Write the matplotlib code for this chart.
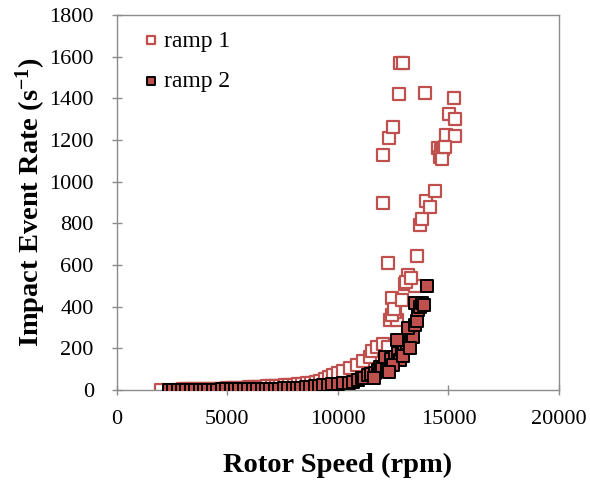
import matplotlib
matplotlib.use("Agg")
import matplotlib.pyplot as plt

plt.rcParams["font.family"] = ["Liberation Serif", "DejaVu Serif"]
plt.rcParams["mathtext.fontset"] = "custom"
plt.rcParams["mathtext.rm"] = "Liberation Serif"
plt.rcParams["mathtext.bf"] = "Liberation Serif:bold"
plt.rcParams["mathtext.default"] = "bf"

# ramp 1 (open squares)
ramp1_rpm = [2000, 2600, 2800, 3000, 3200, 3400, 3600, 3800, 4000, 4200,
             4400, 4600, 4800, 5000, 5200, 5400, 5600, 5800, 6000, 6200,
             6400, 6600, 6800, 7000, 7200, 7400, 7600, 7800, 8000, 8200,
             8400, 8600, 8800, 9000, 9200, 9400, 9600, 9800,
             10000, 10250, 10550, 10850, 11150, 11450, 11530, 11755, 12050, 12280,
             12355, 12660, 12580, 12430, 12450, 12520, 12885, 13035, 13485, 13185,
             13100, 13300, 12280, 13560, 12030, 13700, 13800, 14000, 14180, 14410,
             12060, 12333, 12515, 12787, 12800, 12950, 13955, 15273, 15015, 15288,
             14909, 15288, 14550, 14650, 14750, 14600, 14700, 14850]
ramp1_rate = [0, 2, 2, 3, 3, 4, 4, 5, 5, 6,
              6, 7, 7, 8, 9, 10, 11, 12, 13, 14,
              15, 16, 17, 18, 19, 20, 22, 24, 26, 28,
              30, 33, 36, 40, 45, 55, 62, 72,
              80, 92, 105, 122, 140, 158, 185, 205, 222, 208,
              335, 335, 375, 440, 360, 390, 430, 510, 500, 550,
              520, 540, 608, 645, 900, 790, 820, 905, 880, 955,
              1130, 1210, 1262, 1420, 1570, 1570, 1428, 1400, 1327, 1303,
              1222, 1217, 1160, 1150, 1155, 1120, 1110, 1165]

# ramp 2 (filled squares)
ramp2_rpm = [2350, 2550, 2750, 2950, 3150, 3350, 3550, 3750, 3950, 4150,
             4350, 4550, 4750, 4950, 5150, 5350, 5550, 5750, 5950, 6150,
             6350, 6550, 6750, 6950, 7150, 7350, 7550, 7750, 7950, 8150,
             8350, 8550, 8750, 8950, 9150, 9350, 9550, 9750,
             10000, 10245, 10500, 10700, 10900, 11075, 11200, 11375, 11500, 11680,
             11800, 11905, 12000, 12205, 12355, 12130, 12400, 12580, 12700, 12810,
             12885, 13000, 13110, 12660, 13300, 13410, 13185, 13485, 13600, 13635,
             13485, 13700, 13790, 13900, 14015, 12500, 12950, 13250, 11650, 12300]
ramp2_rate = [0, 0, 0, 1, 1, 1, 1, 1, 2, 2,
              2, 2, 3, 3, 3, 3, 4, 4, 4, 5,
              5, 5, 6, 6, 7, 7, 8, 9, 10, 11,
              12, 14, 16, 18, 21, 24, 26, 28,
              30, 32, 36, 40, 48, 56, 60, 72, 75, 80,
              95, 112, 100, 96, 128, 160, 150, 160, 180, 144,
              192, 210, 224, 240, 270, 256, 296, 312, 330, 384,
              416, 400, 416, 410, 500, 120, 165, 200, 60, 85]

red = "#C0504D"

fig = plt.figure(figsize=(5.9, 4.82), dpi=100)
ax = fig.add_axes([116.7 / 590, 1 - 390 / 482, (559 - 116.7) / 590, (390 - 15) / 482])

ax.scatter(ramp1_rpm, ramp1_rate, s=72, marker="s", facecolors="white",
           edgecolors=red, linewidths=1.6, label="ramp 1", zorder=2)
ax.scatter(ramp2_rpm, ramp2_rate, s=72, marker="s", facecolors=red,
           edgecolors="black", linewidths=1.4, label="ramp 2", zorder=3)

ax.set_xlim(0, 20000)
ax.set_ylim(0, 1800)
ax.set_xticks(range(0, 20001, 5000))
ax.set_yticks(range(0, 1801, 200))

for sp in ax.spines.values():
    sp.set_color("#8c8c8c")
    sp.set_linewidth(1.0)
ax.tick_params(axis="both", colors="#8c8c8c", labelcolor="black",
               labelsize=16, length=7, width=1.0, direction="inout")
ax.tick_params(axis="y", pad=13)
ax.tick_params(axis="x", pad=11)

ax.set_xlabel("Rotor Speed (rpm)", fontsize=20.5, fontweight="bold", labelpad=17)
ax.set_ylabel("Impact Event Rate (s$^{-1}$)", fontsize=20.5, fontweight="bold", labelpad=1)

ax.legend(loc="upper left", frameon=False, fontsize=17, markerscale=0.65,
          handlelength=1.0, handletextpad=0.05, labelspacing=0.8,
          borderaxespad=0.0, bbox_to_anchor=(0.03, 0.985))

fig.savefig("out.png", dpi=100)
